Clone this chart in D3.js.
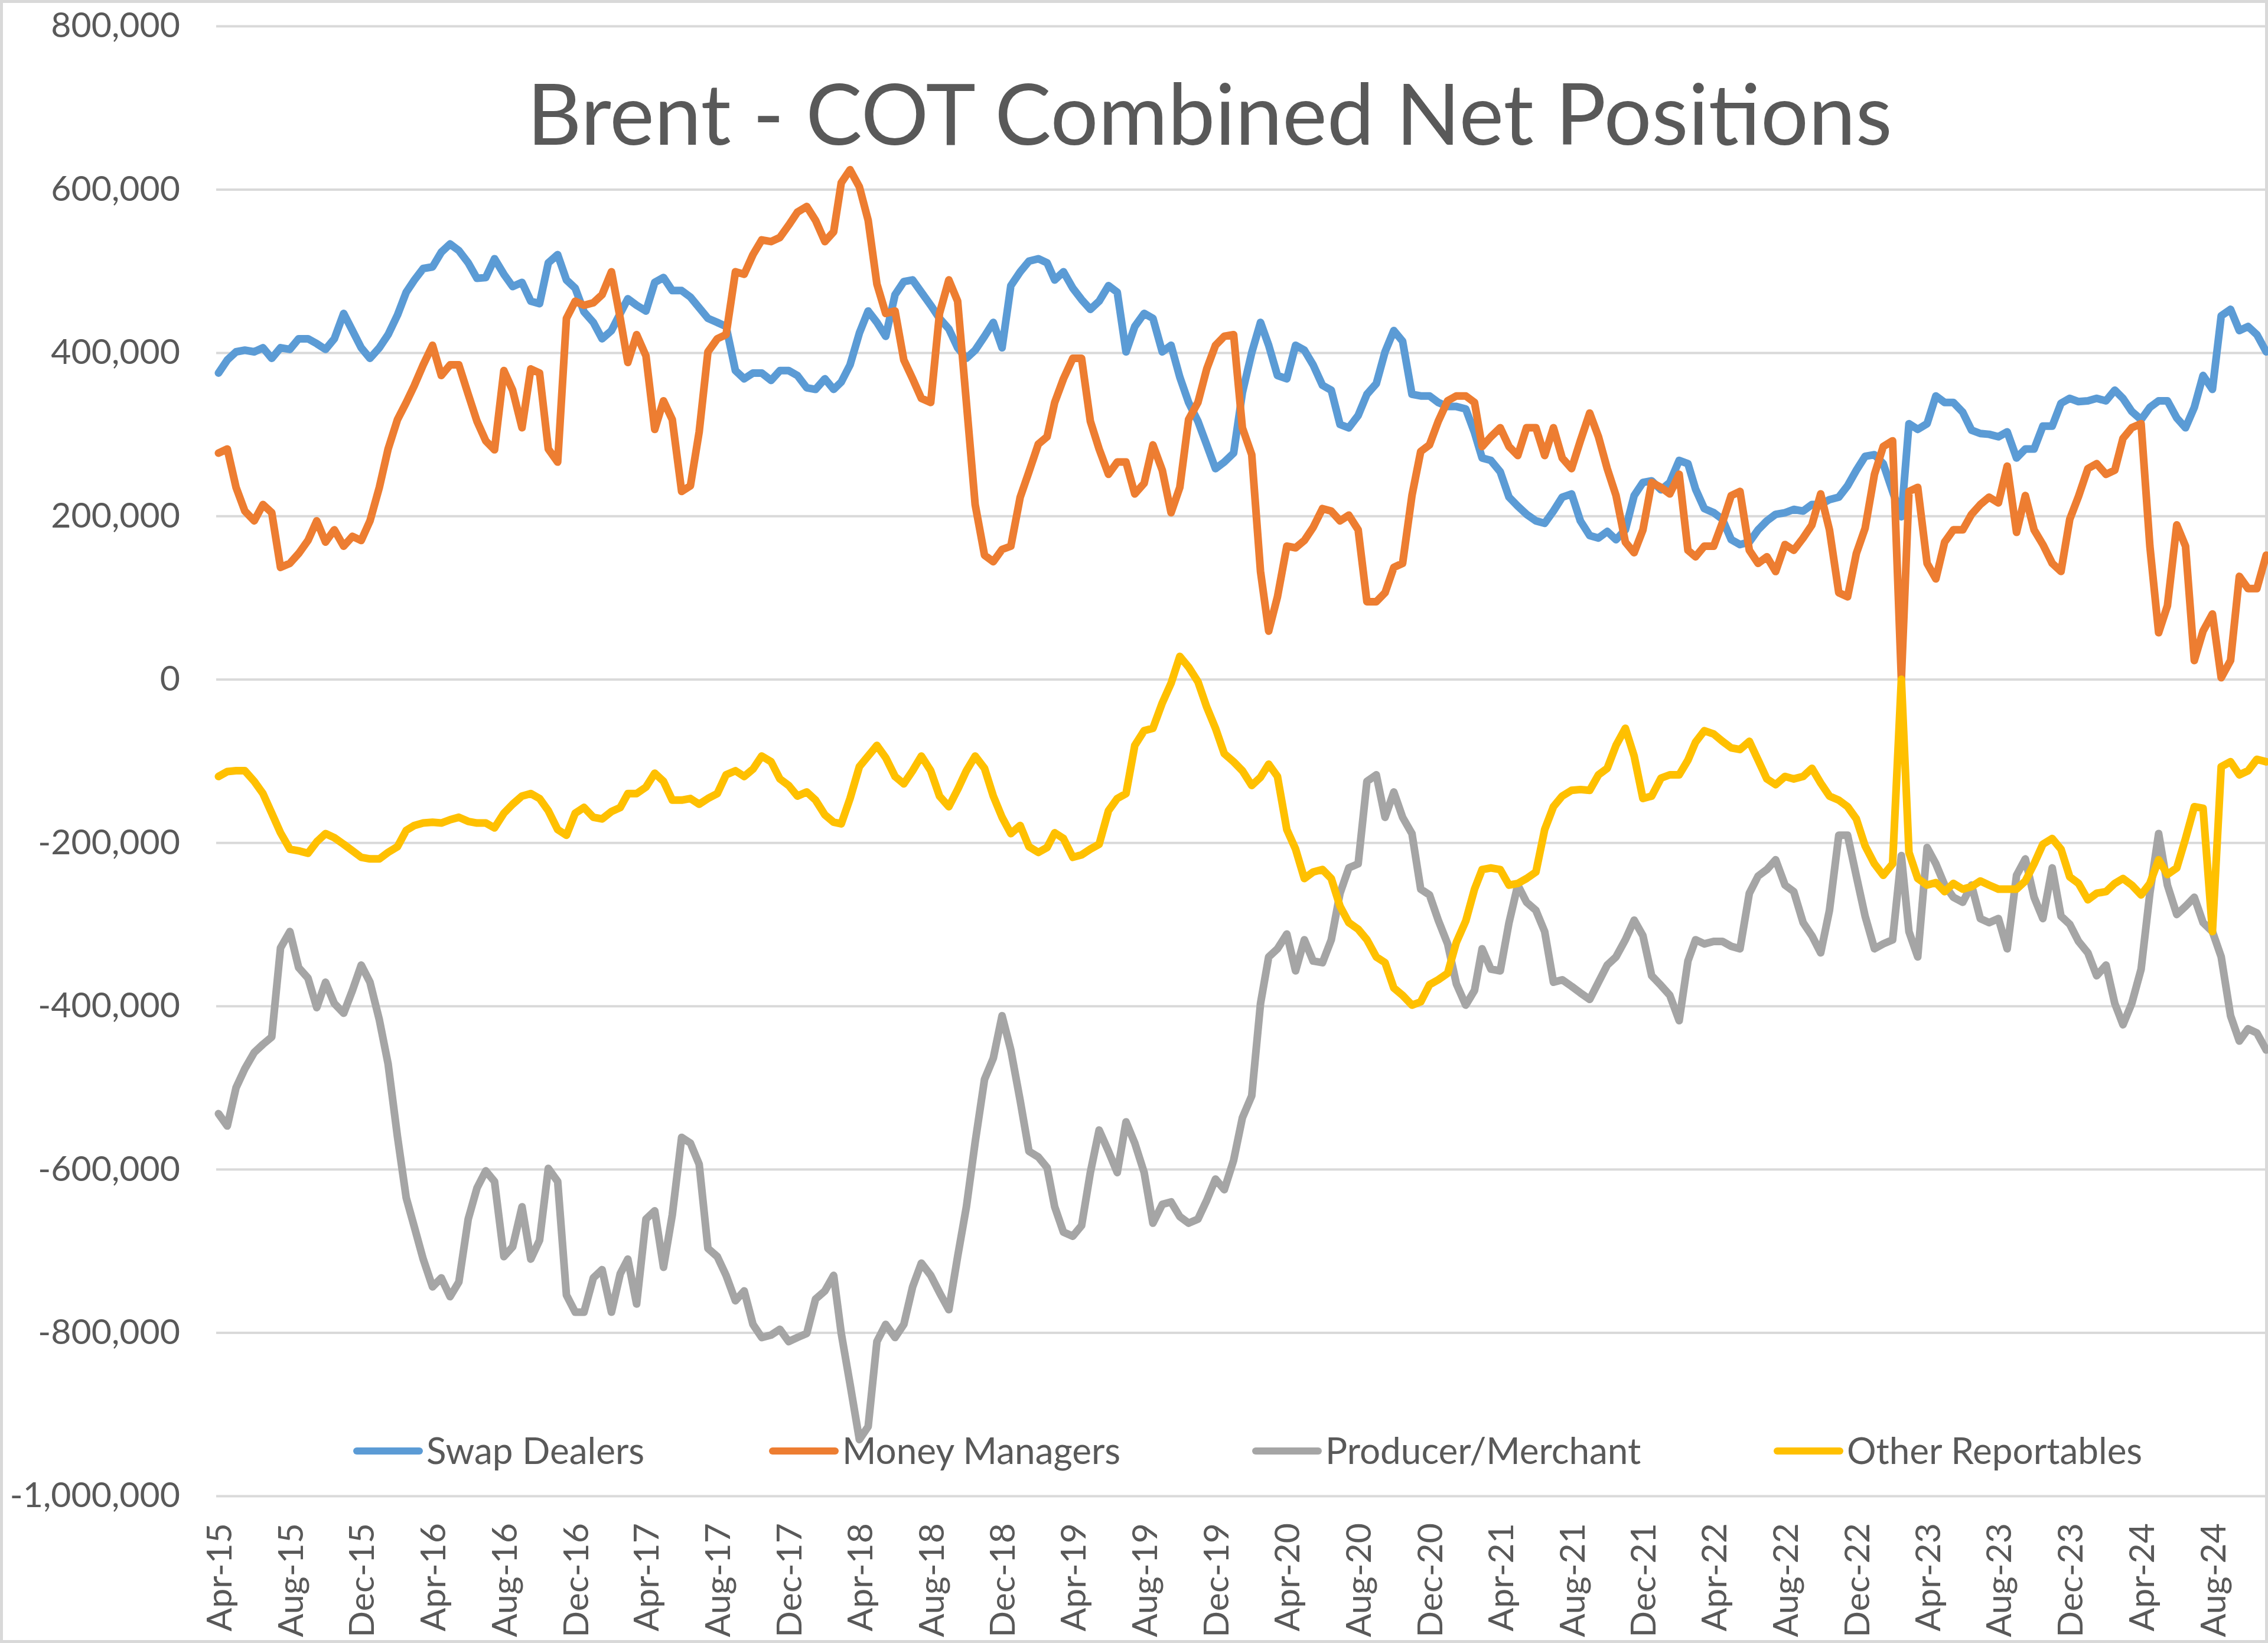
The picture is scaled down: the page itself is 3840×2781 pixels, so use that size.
<!DOCTYPE html>
<html>
<head>
<meta charset="utf-8">
<script src="https://cdn.jsdelivr.net/npm/d3@7"></script>
<style>
  body { margin: 0; background: #fff; }
  text { font-family: Lato, "Open Sans", sans-serif; fill: #595959; }
</style>
</head>
<body>
<div class="chart"></div>
<script>
// net positions in thousands of contracts, sampled on the 1st and 16th of each month from Apr 2015
const swapDealers = [
  375,391,401,403,401,406,393,406,404,417, 417,411,404,417,448,427,406,393,406,422,
  446,474,489,503,505,523,533,525,510,491, 492,515,496,481,486,463,460,510,520,489,
  479,450,437,417,427,448,466,458,451,486, 492,476,476,468,455,442,437,432,378,368,
  375,375,366,378,378,372,357,355,368,355, 364,385,424,451,437,420,471,487,489,474,
  458,442,429,406,393,403,420,437,406,482, 499,512,515,510,489,499,479,465,453,463,
  482,474,401,432,448,442,401,409,370,339, 316,287,258,266,277,351,400,437,409,372,
  368,409,403,385,360,354,312,308,323,349, 362,401,427,414,349,347,347,339,334,334,
  331,302,271,268,254,223,212,202,194,191, 206,223,227,194,176,173,181,171,183,225,
  241,243,232,241,268,264,233,209,204,196, 171,165,168,183,194,202,204,208,206,214,
  214,220,223,237,256,273,275,264,230,199, 313,306,313,347,339,339,327,305,301,300,
  297,303,271,282,282,310,310,338,344,340, 341,344,341,354,344,328,318,333,341,341,
  320,308,333,372,355,445,453,427,432,422, 401
];
const moneyManagers = [
  277,282,235,206,194,214,204,137,142,154, 170,194,168,183,163,175,170,194,235,282,
  318,339,360,385,409,372,385,385,349,316, 292,281,378,354,308,380,375,282,266,442,
  463,458,461,471,499,442,388,422,396,306, 341,318,230,237,303,401,417,422,499,496,
  520,538,536,541,556,572,579,562,536,548, 608,624,603,562,484,448,451,391,368,344,
  339,448,489,463,339,214,152,144,159,163, 223,254,288,297,339,368,393,393,316,282,
  251,266,266,227,240,287,256,204,235,318, 339,380,409,420,422,308,275,132,59,101,
  163,161,170,186,209,206,194,201,183,95, 95,106,137,142,225,279,287,316,341,347,
  347,339,285,297,308,285,274,308,308,274, 308,271,258,292,326,297,258,225,168,155,
  183,241,235,227,251,158,150,163,163,192, 225,230,158,142,150,132,165,158,173,189,
  227,183,106,101,154,185,251,285,292,0, 230,235,142,123,168,183,183,202,214,223,
  216,261,180,225,183,165,142,132,196,224, 258,264,251,256,295,308,313,163,57,90,
  189,163,23,59,80,2,23,126,111,111, 152
];
const producerMerchant = [
  -532,-547,-500,-477,-457,-447,-438,-329,-309,-353, -366,-402,-371,-397,-409,-381,-350,-371,-417,-471,
  -560,-635,-671,-710,-744,-733,-756,-738,-661,-623, -602,-615,-707,-695,-646,-710,-687,-599,-615,-754,
  -775,-775,-733,-723,-775,-728,-710,-765,-661,-651, -720,-656,-561,-568,-594,-697,-707,-730,-761,-749,
  -790,-806,-803,-796,-811,-806,-801,-759,-749,-730, -801,-863,-931,-915,-811,-790,-806,-790,-744,-715,
  -730,-751,-772,-707,-646,-567,-490,-464,-412,-454, -516,-578,-585,-598,-646,-677,-682,-669,-604,-552,
  -578,-604,-542,-568,-604,-666,-643,-640,-658,-666, -661,-638,-612,-625,-589,-537,-510,-397,-340,-330,
  -312,-357,-319,-345,-347,-319,-262,-231,-226,-125, -117,-169,-138,-169,-189,-257,-264,-295,-324,-373,
  -399,-381,-330,-355,-357,-298,-252,-273,-283,-309, -371,-368,-376,-384,-392,-371,-350,-340,-319,-295,
  -314,-363,-375,-387,-418,-345,-319,-324,-321,-321, -327,-330,-262,-241,-233,-221,-252,-260,-298,-314,
  -335,-283,-191,-191,-241,-290,-330,-324,-319,-216, -309,-340,-206,-226,-252,-267,-273,-252,-293,-298,
  -293,-330,-240,-220,-267,-293,-231,-290,-300,-321, -335,-363,-350,-397,-423,-397,-355,-262,-189,-252,
  -288,-278,-267,-298,-309,-340,-412,-443,-428,-433, -454
];
const otherReportables = [
  -119,-113,-112,-112,-125,-140,-164,-188,-208,-210, -213,-199,-189,-194,-202,-210,-218,-220,-220,-212,
  -205,-185,-179,-176,-175,-176,-172,-169,-174,-176, -176,-182,-164,-153,-143,-140,-146,-161,-184,-191,
  -164,-157,-169,-171,-162,-157,-140,-140,-132,-115, -125,-148,-148,-146,-153,-146,-140,-117,-112,-119,
  -110,-94,-101,-122,-130,-143,-138,-148,-166,-175, -177,-146,-107,-94,-81,-96,-119,-128,-112,-94,
  -112,-143,-156,-135,-112,-94,-109,-143,-169,-189, -179,-205,-212,-206,-188,-195,-218,-215,-208,-202,
  -161,-146,-140,-81,-63,-60,-29,-5,28,15, -3,-34,-60,-91,-101,-112,-130,-120,-104,-119,
  -184,-208,-244,-236,-233,-244,-278,-298,-306,-319, -340,-347,-378,-387,-399,-395,-374,-368,-360,-322,
  -296,-257,-233,-231,-233,-252,-250,-244,-236,-184, -156,-143,-136,-135,-136,-117,-109,-81,-60,-94,
  -146,-143,-121,-117,-117,-99,-77,-63,-67,-76, -84,-86,-76,-99,-122,-129,-119,-122,-119,-109,
  -127,-143,-148,-156,-171,-204,-226,-240,-226,0, -212,-244,-252,-249,-260,-250,-257,-254,-247,-252,
  -257,-257,-257,-247,-226,-202,-195,-208,-242,-250, -270,-262,-260,-250,-244,-252,-264,-250,-221,-239,
  -231,-195,-156,-158,-309,-107,-101,-117,-112,-98, -101
];

const seriesNames = ["Swap Dealers", "Money Managers", "Producer/Merchant", "Other Reportables"];
const seriesColors = ["#5b9bd5", "#ed7d31", "#a5a5a5", "#ffc000"];
const seriesValues = [swapDealers, moneyManagers, producerMerchant, otherReportables];

const xTickLabels = [
  "Apr-15","Aug-15","Dec-15","Apr-16","Aug-16","Dec-16","Apr-17","Aug-17","Dec-17","Apr-18",
  "Aug-18","Dec-18","Apr-19","Aug-19","Dec-19","Apr-20","Aug-20","Dec-20","Apr-21","Aug-21",
  "Dec-21","Apr-22","Aug-22","Dec-22","Apr-23","Aug-23","Dec-23","Apr-24","Aug-24"
];
const yTicks = [800000, 600000, 400000, 200000, 0, -200000, -400000, -600000, -800000, -1000000];

const w = 3840,
      h = 2781,
      plotLeft = 366,
      plotRight = 3838,
      plotTop = 44,
      plotBottom = 2532,
      legendX = [598, 1302, 2120, 3003],
      legendY = 2456;

// sample dates: 1st and 16th of each month
const dates = swapDealers.map((d, i) => new Date(2015, 3 + Math.floor(i / 2), i % 2 ? 16 : 1));
const parseTick = d3.timeParse("%b-%y");

const svg = d3.select(".chart")
  .append("svg")
  .attr("width", w)
  .attr("height", h);

svg.append("rect")
  .attr("x", 2.5).attr("y", 2.5)
  .attr("width", w - 5).attr("height", h - 5)
  .attr("fill", "#fff")
  .attr("stroke", "#d9d9d9")
  .attr("stroke-width", 5);

const xScale = d3.scaleTime()
  .domain([new Date(2015, 3, 1), new Date(2024, 10, 1)])
  .range([370, 3837]);
const yScale = d3.scaleLinear()
  .domain([-1000000, 800000])
  .range([plotBottom, plotTop]);

const fmt = d3.formatLocale({decimal: ".", thousands: ",", grouping: [3], currency: ["", ""], minus: "-"}).format(",");

// y axis with gridlines
const yAxis = d3.axisLeft(yScale)
  .tickValues(yTicks)
  .tickFormat(fmt)
  .tickSize(-(plotRight - plotLeft))
  .tickPadding(61);
const yg = svg.append("g")
  .attr("transform", "translate(" + plotLeft + ",0)")
  .call(yAxis);
yg.select(".domain").remove();
yg.selectAll(".tick line")
  .attr("stroke", "#d9d9d9")
  .attr("stroke-width", 4);
yg.selectAll(".tick text")
  .attr("font-family", "Lato")
  .attr("font-size", 59)
  .attr("fill", "#595959");

// x axis, rotated month labels
const xAxis = d3.axisBottom(xScale)
  .tickValues(xTickLabels.map(parseTick))
  .tickFormat(d3.timeFormat("%b-%y"))
  .tickSize(0);
const xg = svg.append("g")
  .attr("transform", "translate(0," + plotBottom + ")")
  .call(xAxis);
xg.select(".domain").remove();
xg.selectAll(".tick text")
  .attr("font-family", "Lato")
  .attr("font-size", 59)
  .attr("fill", "#595959")
  .attr("transform", "rotate(-90)")
  .attr("text-anchor", "end")
  .attr("x", -46)
  .attr("y", 0)
  .attr("dy", "0.36em");

// series lines
const line = d3.line()
  .x((d, i) => xScale(dates[i]))
  .y((d) => yScale(d * 1000));

seriesValues.forEach((vals, k) => {
  svg.append("path")
    .datum(vals)
    .attr("d", line)
    .attr("fill", "none")
    .attr("stroke", seriesColors[k])
    .attr("stroke-width", 13)
    .attr("stroke-linejoin", "round")
    .attr("stroke-linecap", "round");
});

// title
svg.append("text")
  .attr("x", 2048)
  .attr("y", 245)
  .attr("text-anchor", "middle")
  .attr("font-family", "Lato")
  .attr("font-size", 143)
  .attr("fill", "#595959")
  .text("Brent - COT Combined Net Positions");

// legend
seriesNames.forEach((name, k) => {
  const g = svg.append("g")
    .attr("transform", "translate(" + legendX[k] + "," + legendY + ")");
  g.append("line")
    .attr("x1", 6).attr("x2", 112)
    .attr("stroke", seriesColors[k])
    .attr("stroke-width", 12)
    .attr("stroke-linecap", "round");
  g.append("text")
    .attr("x", 124)
    .attr("dy", "0.36em")
    .attr("font-family", "Lato")
    .attr("font-size", 62)
    .attr("fill", "#595959")
    .text(name);
});
</script>
</body>
</html>
